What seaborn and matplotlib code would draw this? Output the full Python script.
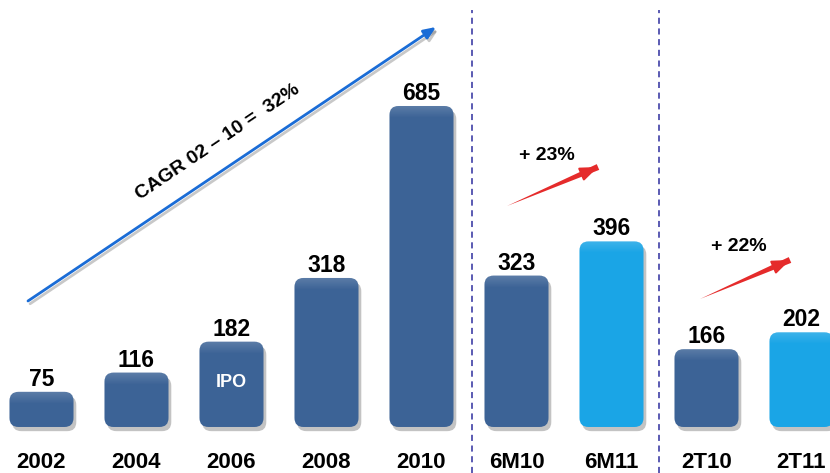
import numpy as np
import pandas as pd
import matplotlib
matplotlib.use("Agg")
import matplotlib.pyplot as plt
import matplotlib.patheffects as pe
from matplotlib.patches import FancyBboxPatch
import seaborn as sns

categories = ["2002", "2004", "2006", "2008", "2010", "6M10", "6M11", "2T10", "2T11"]
values = [75, 116, 182, 318, 685, 323, 396, 166, 202]
bar_colors = ["#3C6396", "#3C6396", "#3C6396", "#3C6396", "#3C6396",
              "#3C6396", "#1AA5E6", "#3C6396", "#1AA5E6"]
cagr_label = "CAGR 02 \u2013 10 =  32%"
growth_labels = ["+ 23%", "+ 22%"]
ipo_label = "IPO"

sns.set_theme(style="white")
plt.rcParams["font.family"] = ["Liberation Sans", "DejaVu Sans"]

fig = plt.figure(figsize=(8.3, 4.73), dpi=100)
ax = fig.add_axes([0, 0, 1, 1])

df = pd.DataFrame({"cat": categories, "val": values})
sns.barplot(data=df, x="cat", y="val", hue="cat", palette=bar_colors,
            legend=False, width=0.674, ax=ax, saturation=1)

ax.set_xlim(-0.4368, 8.3)
ax.set_ylim(-98.2, 911.2)
ax.axis("off")

px_x = 95.0
px_y = 0.4686
rad_px = 9
rs = rad_px / px_x
aspect = (rad_px / px_y) / rs

patches = list(ax.patches)
for p in patches:
    x0, y0 = p.get_x(), p.get_y()
    w, h = p.get_width(), p.get_height()
    fc = p.get_facecolor()
    p.set_visible(False)
    fb = FancyBboxPatch((x0, y0), w, h,
                        boxstyle=f"round,pad=0,rounding_size={rs}",
                        mutation_aspect=aspect, facecolor=fc, edgecolor="none",
                        zorder=3)
    fb.set_path_effects([pe.SimplePatchShadow(offset=(2, -3), shadow_rgbFace="#555555", alpha=0.35),
                         pe.Normal()])
    ax.add_patch(fb)
    # subtle bevel highlight confined to the top ~12 px of each bar
    band = 12 / px_y
    grad = np.linspace(0, 1, 32)
    rgba = np.zeros((32, 1, 4))
    rgba[..., 0:3] = 1.0
    rgba[:, 0, 3] = 0.16 * grad
    im = ax.imshow(rgba, extent=(x0, x0 + w, y0 + h - band, y0 + h), origin="lower",
                   aspect="auto", zorder=3.5, interpolation="bilinear")
    im.set_clip_path(fb)

ax.set_xlim(-0.4368, 8.3)
ax.set_ylim(-98.2, 911.2)

for i, (c, v) in enumerate(zip(categories, values)):
    ax.text(i, v + 13, str(v), ha="center", va="baseline",
            fontsize=16.5, fontweight="bold", color="black", zorder=5)
    ax.text(i, -76.8, c, ha="center", va="center",
            fontsize=16, fontweight="bold", color="black", zorder=5)

ax.text(2, 95, ipo_label, ha="center", va="center", fontsize=13,
        fontweight="bold", color="white", zorder=6)

for xs in [4.53, 6.5]:
    ax.axvline(xs, ymin=0, ymax=0.979, color="#2E2E9E", lw=1.1,
               linestyle=(0, (4, 3)), zorder=1)

ax.annotate("", xy=(4.153, 853.6), xytext=(-0.142, 268.9),
            arrowprops=dict(arrowstyle="-|>,head_length=0.6,head_width=0.25",
                            color="#1A6CD6", lw=2.0, shrinkA=0, shrinkB=0,
                            path_effects=[pe.SimpleLineShadow(offset=(1.5, -2), shadow_color="#777777", alpha=0.4),
                                          pe.Normal()]),
            zorder=4)
ax.text(1.858, 608.2, cagr_label, rotation=34, rotation_mode="anchor",
        ha="center", va="center", fontsize=14, fontweight="bold", color="black")

red_arrows = [((4.9, 471.6), (5.858, 554.8), (5.321, 578.3)),
              ((6.932, 273.2), (7.879, 356.4), (7.342, 384.1))]
for (tail, head, tpos), lab in zip(red_arrows, growth_labels):
    ax.annotate("", xy=tail, xytext=head,
                arrowprops=dict(arrowstyle="wedge,tail_width=0.45,shrink_factor=0.5",
                                color="#E52B2B", lw=0, shrinkA=0, shrinkB=0,
                                mutation_scale=10),
                zorder=4)
    ax.annotate("", xy=head, xytext=(tail[0] + 0.8 * (head[0] - tail[0]),
                                     tail[1] + 0.8 * (head[1] - tail[1])),
                arrowprops=dict(arrowstyle="-|>,head_length=0.9,head_width=0.35",
                                color="#E52B2B", lw=1.5, shrinkA=0, shrinkB=0),
                zorder=4)
    ax.text(tpos[0], tpos[1], lab, ha="center", va="center", fontsize=14,
            fontweight="bold", color="black")

fig.savefig("out.png", dpi=100)
